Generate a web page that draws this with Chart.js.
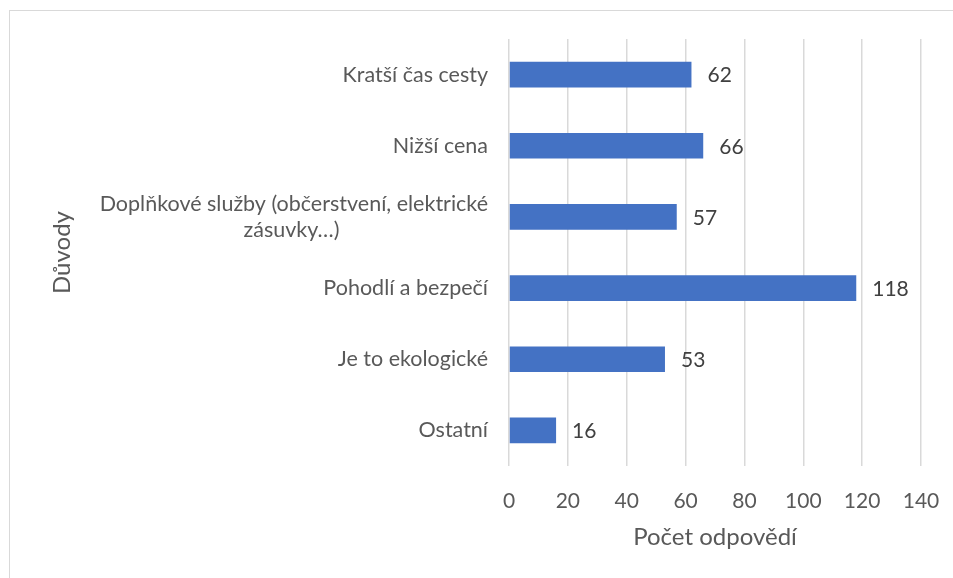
<!DOCTYPE html>
<html>
<head>
<meta charset="utf-8">
<script src="https://cdn.jsdelivr.net/npm/chart.js@4.4.0/dist/chart.umd.min.js"></script>
<style>
  html, body { margin: 0; padding: 0; background: #fff; }
  #frame { position: absolute; left: 9px; top: 10px; width: 960px; height: 580px; border: 1px solid #d9d9d9; }
  #wrap { position: absolute; left: 0; top: 0; width: 953px; height: 578px; }
</style>
</head>
<body>
<div id="frame"></div>
<div id="wrap"><canvas id="chart" width="953" height="578"></canvas></div>
<script>
// Data
const categories = [
    'Kratší čas cesty',
    'Nižší cena',
    ['Doplňkové služby (občerstvení, elektrické', 'zásuvky…)'],
    'Pohodlí a bezpečí',
    'Je to ekologické',
    'Ostatní'
];
const answers = [62, 66, 57, 118, 53, 16];
const xTicks = [0, 20, 40, 60, 80, 100, 120, 140];

const fontFamily = 'Lato, "Open Sans", sans-serif';
const textColor = '#595959';
const labelSize = 21.5;

// center the lines of a multi-line label while keeping them right aligned as a block
const measureCtx = document.createElement('canvas').getContext('2d');
measureCtx.font = labelSize + 'px ' + fontFamily;
function centerLines(label) {
    if (!Array.isArray(label)) return label;
    const widths = label.map(l => measureCtx.measureText(l).width);
    const maxW = Math.max(...widths);
    const spaceW = measureCtx.measureText('\u00a0').width;
    return label.map((l, i) => l + '\u00a0'.repeat(Math.round((maxW - widths[i]) / 2 / spaceW)));
}

// value labels next to the bars
const valueLabels = {
    id: 'valueLabels',
    afterDatasetsDraw(chart) {
        const ctx = chart.ctx;
        const meta = chart.getDatasetMeta(0);
        ctx.save();
        ctx.font = '21px ' + fontFamily;
        ctx.fillStyle = '#404040';
        ctx.textAlign = 'left';
        ctx.textBaseline = 'middle';
        meta.data.forEach((bar, i) => {
            ctx.fillText(String(answers[i]), bar.x + 16, bar.y + 1);
        });
        ctx.restore();
    }
};

const ctx = document.getElementById('chart').getContext('2d');
new Chart(ctx, {
    type: 'bar',
    data: {
        labels: categories,
        datasets: [{
            data: answers,
            backgroundColor: '#4472c4',
            barPercentage: 0.36,
            categoryPercentage: 1
        }]
    },
    options: {
        indexAxis: 'y',
        animation: false,
        responsive: false,
        layout: { padding: { left: 40, right: 32, top: 39, bottom: 0 } },
        plugins: { legend: { display: false }, tooltip: { enabled: false } },
        scales: {
            x: {
                min: 0,
                max: 140,
                afterBuildTicks: scale => { scale.ticks = xTicks.map(v => ({ value: v })); },
                afterFit: scale => {
                    scale.height = 578 - 466;
                    scale.paddingLeft = 0;
                    scale.paddingRight = 0;
                },
                grid: { color: '#d9d9d9', lineWidth: 1.5, drawTicks: false },
                border: { display: false },
                ticks: { color: textColor, font: { family: fontFamily, size: 21 }, padding: 23 },
                title: {
                    display: true,
                    text: 'Počet odpovědí',
                    color: textColor,
                    font: { family: fontFamily, size: 24 },
                    padding: { top: 0, bottom: 26.6 }
                }
            },
            y: {
                afterFit: scale => { scale.width = 509 - 40; },
                grid: { display: false },
                border: { display: false },
                ticks: {
                    color: textColor,
                    font: { family: fontFamily, size: labelSize },
                    padding: 13,
                    callback: function (value, index) { return centerLines(categories[index]); }
                },
                title: {
                    display: true,
                    text: 'Důvody',
                    color: textColor,
                    font: { family: fontFamily, size: 24 },
                    padding: { top: 7.6, bottom: 0 }
                }
            }
        }
    },
    plugins: [valueLabels]
});
</script>
</body>
</html>
